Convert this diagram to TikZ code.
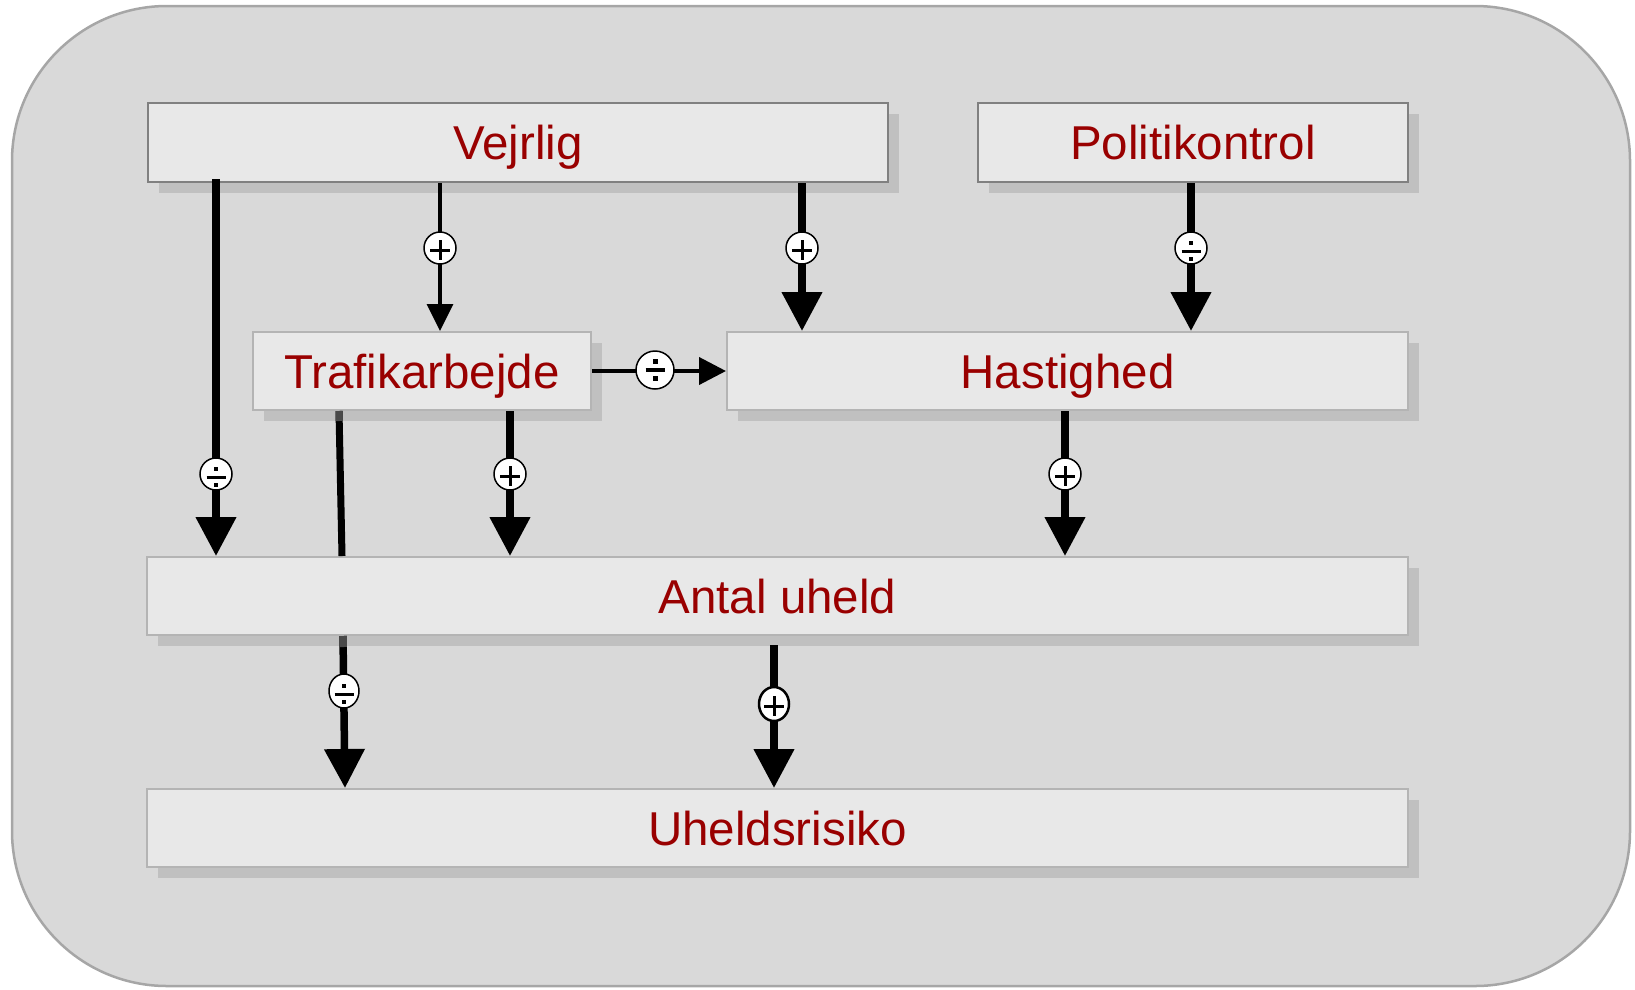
\documentclass[tikz,border=0pt]{standalone}
\usepackage{fontspec}
\setmainfont{Liberation Sans}
\usetikzlibrary{arrows.meta,shadows,shapes.geometric}
\definecolor{bgfill}{HTML}{D9D9D9}
\definecolor{bgline}{HTML}{A6A6A6}
\definecolor{boxfill}{HTML}{E8E8E8}
\definecolor{boxdark}{HTML}{808080}
\definecolor{boxlight}{HTML}{B4B4B4}
\definecolor{shadowc}{HTML}{C0C0C0}
\definecolor{txtred}{HTML}{990000}
\definecolor{undershadow}{HTML}{4A4A4A}
\begin{document}
\begin{tikzpicture}[x=1pt,y=-1pt,
  box/.style={draw=boxlight, line width=2pt, fill=boxfill, text=txtred,
    font=\fontsize{47.5}{50}\selectfont, minimum height=79pt, inner sep=0pt,
    text height=34pt, text depth=0pt,
    drop shadow={shadow xshift=11pt, shadow yshift=-11pt, fill=shadowc, opacity=1}},
  darkbox/.style={box, draw=boxdark},
  thickarrow/.style={line width=7.5pt, -{Triangle[length=39pt,width=39pt]}},
  thinarrow/.style={line width=3.5pt, -{Triangle[length=27pt,width=26pt]}},
  harrow/.style={line width=4pt, -{Triangle[length=27pt,width=27pt]}},
  plainline/.style={line width=7pt},
  sgn/.style={circle, draw=black, line width=1.5pt, fill=white, minimum size=32pt, inner sep=0pt},
  plus/.style={sgn, path picture={
    \draw[black, line width=3pt] ([xshift=-10pt,yshift=-2pt]path picture bounding box.center) -- ([xshift=10pt,yshift=-2pt]path picture bounding box.center);
    \draw[black, line width=3pt] ([yshift=8pt]path picture bounding box.center) -- ([yshift=-12pt]path picture bounding box.center);}},
  divsgn/.style={sgn, path picture={
    \draw[black, line width=3.5pt] ([xshift=-9.5pt,yshift=-3.5pt]path picture bounding box.center) -- ([xshift=9.5pt,yshift=-3.5pt]path picture bounding box.center);
    \fill[black] ([xshift=-2.3pt,yshift=2.7pt]path picture bounding box.center) rectangle ([xshift=2.3pt,yshift=7.3pt]path picture bounding box.center);
    \fill[black] ([xshift=-2.3pt,yshift=-8.7pt]path picture bounding box.center) rectangle ([xshift=2.3pt,yshift=-13.3pt]path picture bounding box.center);}},
  hdiv/.style={sgn, minimum size=38pt, path picture={
    \draw[black, line width=3.5pt] ([xshift=-9.5pt]path picture bounding box.center) -- ([xshift=9.5pt]path picture bounding box.center);
    \fill[black] ([xshift=-2.5pt,yshift=6pt]path picture bounding box.center) rectangle ([xshift=2.5pt,yshift=11pt]path picture bounding box.center);
    \fill[black] ([xshift=-2.5pt,yshift=-6pt]path picture bounding box.center) rectangle ([xshift=2.5pt,yshift=-11pt]path picture bounding box.center);}},
  ell/.style={ellipse, minimum width=30pt, minimum height=34pt},
]
\useasboundingbox (0,0) rectangle (1635,989);
\draw[fill=bgfill, draw=bgline, line width=2.5pt, rounded corners=155pt] (12,6) rectangle (1630,986);

\node[darkbox, minimum width=740pt] (vej) at (518,142.5) {Vejrlig};
\node[darkbox, minimum width=430pt] (pol) at (1193,142.5) {Politikontrol};
\node[box, minimum width=338pt, minimum height=78pt] (traf) at (422,371) {Trafikarbejde};
\node[box, minimum width=681pt, minimum height=78pt] (hast) at (1067.5,371) {Hastighed};
\node[box, minimum width=1261pt, minimum height=78pt] (antal) at (777.5,596) {Antal uheld};
\node[box, minimum width=1261pt, minimum height=78pt] (uheld) at (777.5,828) {Uheldsrisiko};

% connectors
\draw[thickarrow] ([yshift=4pt]216,0 |- vej.south) -- (216,0 |- antal.north);
\draw[thinarrow] (440,0 |- vej.south) -- (440,0 |- traf.north);
\draw[thickarrow] (802,0 |- vej.south) -- (802,0 |- hast.north);
\draw[thickarrow] (1191,0 |- pol.south) -- (1191,0 |- hast.north);
\draw[harrow] (traf.east) -- (hast.west);
\draw[thickarrow] (510,0 |- traf.south) -- (510,0 |- antal.north);
\draw[plainline] (339,0 |- traf.south) -- (342,0 |- antal.north);
\draw[thickarrow] (1065,0 |- hast.south) -- (1065,0 |- antal.north);
\draw[thickarrow] (343,0 |- antal.south) -- (345,0 |- uheld.north);
\draw[thickarrow] ([yshift=-9pt]774,0 |- antal.south) -- (774,0 |- uheld.north);
% parts of lines seen through shadows
\draw[line width=7pt, undershadow] (339,411) -- (339.2,421);
\draw[line width=7.5pt, undershadow] (343,636) -- (343.2,647);

% signs
\node[plus] (s1) at (440,248) {};
\node[plus] (s2) at (802,248) {};
\node[divsgn] (s3) at (1191,248) {};
\node[hdiv] (s4) at (655,370) {};
\node[divsgn] (s5) at (216,474) {};
\node[plus] (s6) at (510,474) {};
\node[plus] (s7) at (1065,474) {};
\node[divsgn, ell] (s8) at (344,691) {};
\node[plus, ell, line width=2.5pt] (s9) at (774,704) {};
\end{tikzpicture}
\end{document}
